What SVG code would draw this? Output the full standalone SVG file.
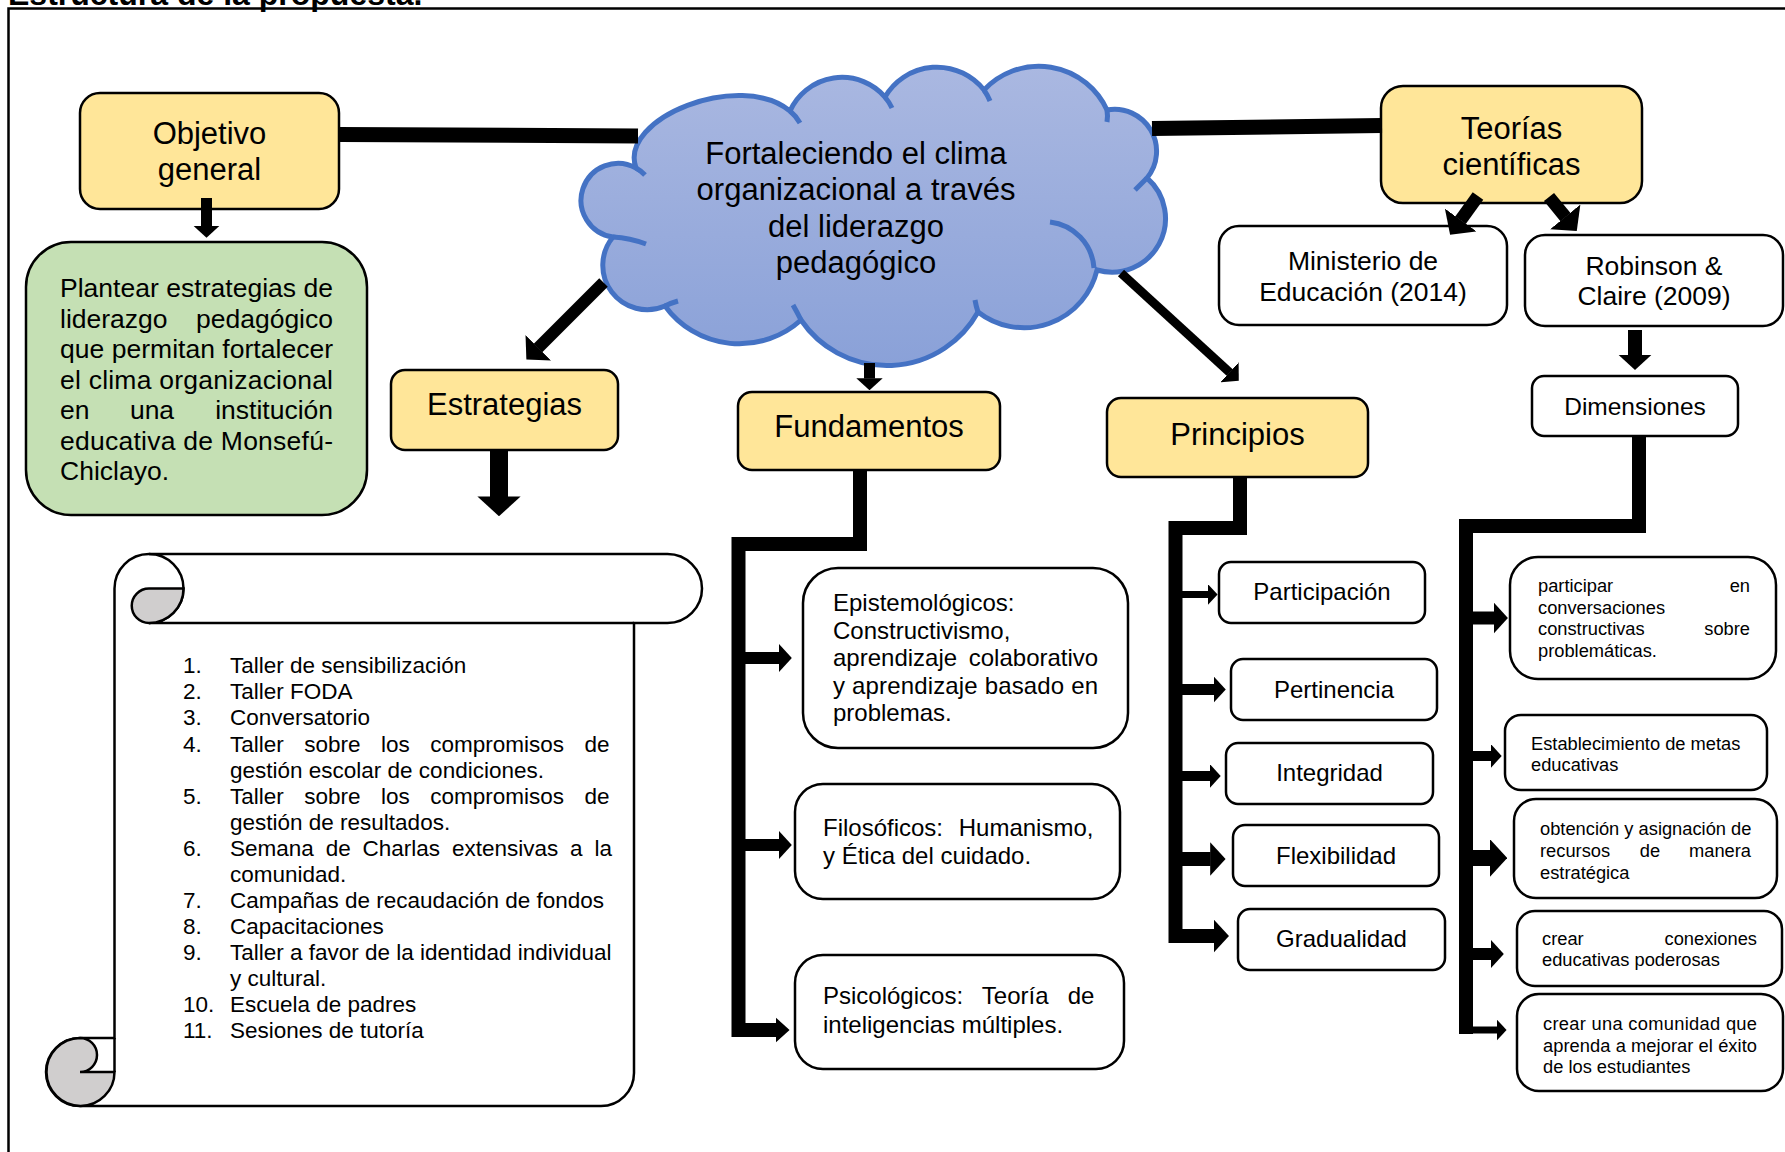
<svg xmlns="http://www.w3.org/2000/svg" width="1785" height="1152" viewBox="0 0 1785 1152">
<style>
text { font-family: "Liberation Sans", Arial, sans-serif; fill: #000; }
.box { stroke: #000; stroke-width: 2.5; }
.y { fill: #FFE699; }
.w { fill: #FFFFFF; }
.g { fill: #C5E0B4; }
.lg { font-size: 31px; text-anchor: middle; }
.md { font-size: 26.5px; }
.mc { font-size: 26.5px; text-anchor: middle; }
.f24 { font-size: 24px; }
.c24 { font-size: 24px; text-anchor: middle; }
.f22 { font-size: 22.5px; }
.sm { font-size: 18.3px; }
.end { text-anchor: end; }
.mid { text-anchor: middle; }
.cl { fill: none; stroke: #4472C4; stroke-width: 5; }
.ln { stroke: #000; fill: none; stroke-linejoin: miter; stroke-linecap: butt; }
.sc { stroke: #000; stroke-width: 2.5; }
</style>
<defs>
<linearGradient id="cloudFill" x1="0" y1="0" x2="0" y2="1">
<stop offset="0" stop-color="#AAB8E1"/>
<stop offset="1" stop-color="#8AA1D8"/>
</linearGradient>
<marker id="ah" viewBox="0 0 11 24" refX="0.3" refY="12" markerWidth="1.1" markerHeight="2.4" orient="auto" markerUnits="strokeWidth">
<path d="M0,0 L11,12 L0,24 Z" fill="#000"/>
</marker>
<marker id="ahb" viewBox="0 0 14 30" refX="0.3" refY="15" markerWidth="1.4" markerHeight="3" orient="auto" markerUnits="strokeWidth">
<path d="M0,0 L14,15 L0,30 Z" fill="#000"/>
</marker>
<marker id="ahs" viewBox="0 0 10 18" refX="0.3" refY="9" markerWidth="1" markerHeight="1.8" orient="auto" markerUnits="strokeWidth">
<path d="M0,0 L10,9 L0,18 Z" fill="#000"/>
</marker>
</defs>

<g id="title">
<text x="8" y="4.5" font-size="32" font-weight="bold">Estructura de la propuesta.</text>
</g>
<path id="frame" d="M8.5,1152 V8.5 H1785" fill="none" stroke="#000" stroke-width="2.5"/>

<g id="objetivo-general">
<rect class="box y" x="80" y="93" width="259" height="116" rx="20"/>
<text class="lg" x="209.5" y="144">Objetivo</text>
<text class="lg" x="209.5" y="180">general</text>
</g>

<g id="plantear">
<rect class="box g" x="26" y="242" width="341" height="273" rx="45"/>
<text class="md" x="60" y="297" textLength="273" lengthAdjust="spacing">Plantear estrategias de</text>
<text class="md" x="60" y="327.5">liderazgo</text>
<text class="md end" x="333" y="327.5">pedagógico</text>
<text class="md" x="60" y="358" textLength="273" lengthAdjust="spacing">que permitan fortalecer</text>
<text class="md" x="60" y="388.5" textLength="273" lengthAdjust="spacing">el clima organizacional</text>
<text class="md" x="60" y="419">en</text>
<text class="md mid" x="152" y="419">una</text>
<text class="md end" x="333" y="419">institución</text>
<text class="md" x="60" y="449.5" textLength="273" lengthAdjust="spacing">educativa de Monsefú-</text>
<text class="md" x="60" y="480">Chiclayo.</text>
</g>

<g id="cloud">
<path d="M636,168 C618,118 740,70 790,111 A57,57 0 0 1 885,97 A60,60 0 0 1 984,90 A75,75 0 0 1 1107,110 A42,42 0 0 1 1147,178 A53.6,53.6 0 0 1 1097,270 A75,75 0 0 1 978,312 A104,104 0 0 1 801,320 A91.8,91.8 0 0 1 665,306 A44.4,44.4 0 0 1 613,237 A37,37 0 1 1 636,168 Z" fill="url(#cloudFill)" stroke="#4472C4" stroke-width="5"/>
<path class="cl" d="M636,168 A37,37 0 0 1 645,175"/>
<path class="cl" d="M790,111 Q796,116 800,123"/>
<path class="cl" d="M885,97 A57,57 0 0 1 892,108"/>
<path class="cl" d="M984,90 A60,60 0 0 1 990,101"/>
<path class="cl" d="M1107,110 Q1108,116 1107,122"/>
<path class="cl" d="M1147,178 Q1141,184 1135,190"/>
<path class="cl" d="M1050,222 A50,50 0 0 1 1094,268"/>
<path class="cl" d="M978,312 Q976,306 975,300"/>
<path class="cl" d="M801,320 Q797,312 793,305"/>
<path class="cl" d="M665,306 Q671,303 678,301"/>
<path class="cl" d="M613,237 Q630,238 646,244"/>
<text class="lg" x="856" y="164">Fortaleciendo el clima</text>
<text class="lg" x="856" y="200">organizacional a través</text>
<text class="lg" x="856" y="236.5">del liderazgo</text>
<text class="lg" x="856" y="272.5">pedagógico</text>
</g>

<g id="estrategias">
<rect class="box y" x="391" y="370" width="227" height="80" rx="14"/>
<text class="lg" x="504.5" y="415">Estrategias</text>
</g>

<g id="lista-estrategias">
<path class="sc" d="M149,554 L667.5,554 A34.5,34.5 0 0 1 667.5,623 L634,623 L634,1073 A33,33 0 0 1 601,1106 L80,1106 A34,34 0 0 1 46,1072 A34,34 0 0 1 80,1038 L114.5,1038 L114.5,588.5 A34.5,34.5 0 0 1 149,554 Z" fill="#fff"/>
<path class="sc" d="M634,623 L149,623" fill="none"/>
<path class="sc" d="M149,554 A34.5,34.5 0 0 1 183.5,588.5 A34.5,34.5 0 0 1 149,623" fill="none"/>
<path class="sc" d="M149,588.5 A17.25,17.25 0 0 0 149,623 A34.5,34.5 0 0 0 183.5,588.5 Z" fill="#D0CECE"/>
<path class="sc" d="M80,1038 A17,17 0 0 1 80,1072 L114.5,1072 A34,34 0 1 1 80,1038 Z" fill="#D0CECE"/>
<path class="sc" d="M114.5,1038 L114.5,1072" fill="none"/>
<g class="f22">
<text x="183" y="673">1.</text><text x="230" y="673">Taller de sensibilización</text>
<text x="183" y="699">2.</text><text x="230" y="699">Taller FODA</text>
<text x="183" y="725">3.</text><text x="230" y="725">Conversatorio</text>
<text x="183" y="751.5">4.</text><text x="230" y="751.5" word-spacing="14.2">Taller sobre los compromisos de</text>
<text x="230" y="777.5">gestión escolar de condiciones.</text>
<text x="183" y="803.5">5.</text><text x="230" y="803.5" word-spacing="14.2">Taller sobre los compromisos de</text>
<text x="230" y="829.5">gestión de resultados.</text>
<text x="183" y="855.5">6.</text><text x="230" y="855.5" word-spacing="5.6">Semana de Charlas extensivas a la</text>
<text x="230" y="881.5">comunidad.</text>
<text x="183" y="907.5">7.</text><text x="230" y="907.5">Campañas de recaudación de fondos</text>
<text x="183" y="934">8.</text><text x="230" y="934">Capacitaciones</text>
<text x="183" y="960">9.</text><text x="230" y="960">Taller a favor de la identidad individual</text>
<text x="230" y="986">y cultural.</text>
<text x="183" y="1012">10.</text><text x="230" y="1012">Escuela de padres</text>
<text x="183" y="1038">11.</text><text x="230" y="1038">Sesiones de tutoría</text>
</g>
</g>

<g id="fundamentos">
<rect class="box y" x="738" y="392" width="262" height="78" rx="14"/>
<text class="lg" x="869" y="437">Fundamentos</text>
</g>

<g id="epistemologicos">
<rect class="box w" x="803" y="568" width="325" height="180" rx="35"/>
<text class="f24" x="833" y="611">Epistemológicos:</text>
<text class="f24" x="833" y="638.5">Constructivismo,</text>
<text class="f24" x="833" y="666" word-spacing="5">aprendizaje colaborativo</text>
<text class="f24" x="833" y="693.5" textLength="265" lengthAdjust="spacing">y aprendizaje basado en</text>
<text class="f24" x="833" y="721">problemas.</text>
</g>

<g id="filosoficos">
<rect class="box w" x="795" y="784" width="325" height="115" rx="28"/>
<text class="f24" x="823" y="836" word-spacing="9">Filosóficos: Humanismo,</text>
<text class="f24" x="823" y="863.5">y Ética del cuidado.</text>
</g>

<g id="psicologicos">
<rect class="box w" x="795" y="955" width="329" height="114" rx="28"/>
<text class="f24" x="823" y="1004" word-spacing="12.5">Psicológicos: Teoría de</text>
<text class="f24" x="823" y="1033">inteligencias múltiples.</text>
</g>

<g id="principios">
<rect class="box y" x="1107" y="398" width="261" height="79" rx="14"/>
<text class="lg" x="1237.5" y="445">Principios</text>
</g>

<g id="participacion">
<rect class="box w" x="1219" y="562" width="206" height="61" rx="12"/>
<text class="c24" x="1322" y="600">Participación</text>
</g>
<g id="pertinencia">
<rect class="box w" x="1231" y="659" width="206" height="61" rx="12"/>
<text class="c24" x="1334" y="698">Pertinencia</text>
</g>
<g id="integridad">
<rect class="box w" x="1226" y="743" width="207" height="61" rx="12"/>
<text class="c24" x="1329.5" y="781">Integridad</text>
</g>
<g id="flexibilidad">
<rect class="box w" x="1233" y="825" width="206" height="61" rx="12"/>
<text class="c24" x="1336" y="864">Flexibilidad</text>
</g>
<g id="gradualidad">
<rect class="box w" x="1238" y="909" width="207" height="61" rx="12"/>
<text class="c24" x="1341.5" y="947">Gradualidad</text>
</g>

<g id="teorias">
<rect class="box y" x="1381" y="86" width="261" height="117" rx="22"/>
<text class="lg" x="1511.5" y="138.5">Teorías</text>
<text class="lg" x="1511.5" y="174.5">científicas</text>
</g>

<g id="ministerio">
<rect class="box w" x="1219" y="226" width="288" height="99" rx="20"/>
<text class="mc" x="1363" y="270">Ministerio de</text>
<text class="mc" x="1363" y="300.5">Educación (2014)</text>
</g>

<g id="robinson">
<rect class="box w" x="1525" y="235" width="258" height="91" rx="20"/>
<text class="mc" x="1654" y="275">Robinson &amp;</text>
<text class="mc" x="1654" y="305">Claire (2009)</text>
</g>

<g id="dimensiones">
<rect class="box w" x="1532" y="376" width="206" height="60" rx="12"/>
<text x="1635" y="415" font-size="24.5" text-anchor="middle">Dimensiones</text>
</g>

<g id="dim-participar">
<rect class="box w" x="1510" y="557" width="266" height="122" rx="28"/>
<text class="sm" x="1538" y="592">participar</text>
<text class="sm end" x="1750" y="592">en</text>
<text class="sm" x="1538" y="613.5">conversaciones</text>
<text class="sm" x="1538" y="635">constructivas</text>
<text class="sm end" x="1750" y="635">sobre</text>
<text class="sm" x="1538" y="656.5">problemáticas.</text>
</g>
<g id="dim-metas">
<rect class="box w" x="1505" y="715" width="262" height="75" rx="16"/>
<text class="sm" x="1531" y="750">Establecimiento de metas</text>
<text class="sm" x="1531" y="771">educativas</text>
</g>
<g id="dim-recursos">
<rect class="box w" x="1514" y="799" width="263" height="99" rx="22"/>
<text class="sm" x="1540" y="835">obtención y asignación de</text>
<text class="sm" x="1540" y="857">recursos</text>
<text class="sm mid" x="1650" y="857">de</text>
<text class="sm end" x="1751" y="857">manera</text>
<text class="sm" x="1540" y="879">estratégica</text>
</g>
<g id="dim-conexiones">
<rect class="box w" x="1517" y="911" width="265" height="75" rx="18"/>
<text class="sm" x="1542" y="945">crear</text>
<text class="sm end" x="1757" y="945">conexiones</text>
<text class="sm" x="1542" y="966">educativas poderosas</text>
</g>
<g id="dim-comunidad">
<rect class="box w" x="1517" y="994" width="266" height="97" rx="22"/>
<text class="sm" x="1543" y="1030" textLength="214" lengthAdjust="spacing">crear una comunidad que</text>
<text class="sm" x="1543" y="1052" textLength="214" lengthAdjust="spacing">aprenda a mejorar el éxito</text>
<text class="sm" x="1543" y="1073">de los estudiantes</text>
</g>

<g id="connectors" class="ln">
<line x1="339" y1="134.5" x2="638" y2="136" stroke-width="15"/>
<line x1="1152" y1="128.5" x2="1382" y2="125.5" stroke-width="15"/>
<line x1="206.5" y1="198" x2="206.5" y2="226" stroke-width="11" marker-end="url(#ah)"/>
<line x1="603.5" y1="282.5" x2="538" y2="348" stroke-width="12" marker-end="url(#ahb)"/>
<line x1="499" y1="451" x2="499" y2="497" stroke-width="18" marker-end="url(#ah)"/>
<line x1="869.5" y1="363" x2="869.5" y2="378.5" stroke-width="11" marker-end="url(#ah)"/>
<line x1="1121" y1="273" x2="1229.7" y2="372.5" stroke-width="9" marker-end="url(#ahb)"/>
<line x1="1478" y1="196" x2="1460.5" y2="220.3" stroke-width="13" marker-end="url(#ahb)"/>
<line x1="1549" y1="197" x2="1565.5" y2="217.2" stroke-width="13" marker-end="url(#ahb)"/>
<line x1="1635" y1="330" x2="1635" y2="355" stroke-width="14" marker-end="url(#ah)"/>
<polyline points="860,470 860,544 738.5,544 738.5,1030 776,1030" stroke-width="14" marker-end="url(#ahs)"/>
<line x1="738" y1="658" x2="779" y2="658" stroke-width="12" marker-end="url(#ah)"/>
<line x1="738" y1="845" x2="779" y2="845" stroke-width="12" marker-end="url(#ah)"/>
<polyline points="1240,477 1240,528 1175.5,528 1175.5,936 1214,936" stroke-width="14" marker-end="url(#ah)"/>
<line x1="1175" y1="594.5" x2="1208" y2="594.5" stroke-width="7" marker-end="url(#ahb)"/>
<line x1="1175" y1="689.5" x2="1214" y2="689.5" stroke-width="11" marker-end="url(#ah)"/>
<line x1="1175" y1="776" x2="1210" y2="776" stroke-width="10" marker-end="url(#ah)"/>
<line x1="1175" y1="859" x2="1210.6" y2="859" stroke-width="14" marker-end="url(#ah)"/>
<polyline points="1639,436 1639,526 1466,526 1466,1034" stroke-width="14"/>
<line x1="1466" y1="618" x2="1494" y2="618" stroke-width="13" marker-end="url(#ah)"/>
<line x1="1466" y1="756" x2="1491" y2="756" stroke-width="10" marker-end="url(#ah)"/>
<line x1="1466" y1="858" x2="1490" y2="858" stroke-width="16" marker-end="url(#ah)"/>
<line x1="1466" y1="954" x2="1491" y2="954" stroke-width="12" marker-end="url(#ah)"/>
<line x1="1466" y1="1030" x2="1497" y2="1030" stroke-width="7" marker-end="url(#ahb)"/>
</g>
</svg>
